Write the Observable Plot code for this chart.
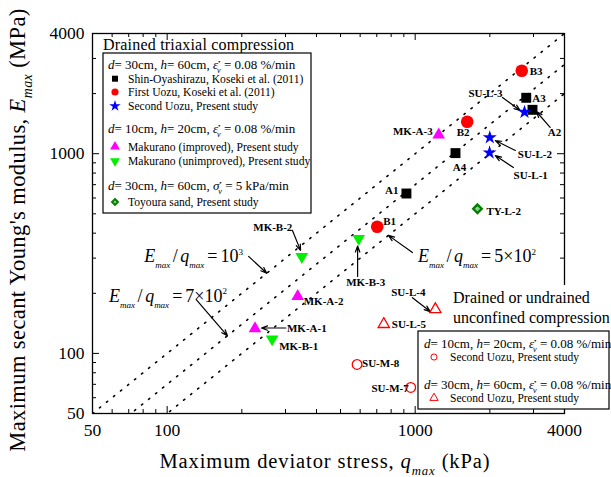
<!DOCTYPE html>
<html><head><meta charset="utf-8">
<script src="https://cdn.jsdelivr.net/npm/d3@7"></script>
<script src="https://cdn.jsdelivr.net/npm/@observablehq/plot@0.6"></script>
<style>
body{margin:0;background:#fff;}
#chart{width:611px;height:477px;}
</style></head><body><div id="chart"></div>
<script>
const W = 611, H = 477;
const SERIF = "'Liberation Serif','Times New Roman',serif";

// ---- data (q_max in kPa, E_max in MPa) ----
const shinNames = ["A1", "A2", "A3", "A4"];
const shinQ = [922, 2972, 2804, 1454];
const shinE = [632, 1659, 1906, 1007];

const firstNames = ["B1", "B2", "B3"];
const firstQ = [703, 1621, 2690];
const firstE = [431, 1446, 2602];

const secondNames = ["SU-L-1", "SU-L-2", "SU-L-3"];
const secondQ = [1995, 1999, 2759];
const secondE = [1012, 1205, 1615];

const mkANames = ["MK-A-1", "MK-A-2", "MK-A-3"];
const mkAQ = [226, 336, 1244];
const mkAE = [133, 193, 1244];

const mkBNames = ["MK-B-1", "MK-B-2", "MK-B-3"];
const mkBQ = [265, 349, 592];
const mkBE = [118, 305, 376];

const toyNames = ["TY-L-2"];
const toyQ = [1783];
const toyE = [530];

const ucSmallNames = ["SU-M-7", "SU-M-8"];
const ucSmallQ = [960, 583];
const ucSmallE = [67.5, 88];

const ucLargeNames = ["SU-L-4", "SU-L-5"];
const ucLargeQ = [1206, 747];
const ucLargeE = [166, 140];

// E_max/q_max reference ratios
const ratios = [1000, 700, 500];
const qRange = [50, 4000];

const xTicks = [50, 100, 1000, 4000];
const yTicks = [50, 100, 1000, 4000];
const xMinor = [60, 70, 80, 90, 200, 300, 400, 500, 600, 700, 800, 900, 2000, 3000];
const xMajor = [100, 1000];
const yMinor = [60, 70, 80, 90, 200, 300, 400, 500, 600, 700, 800, 900, 2000, 3000];
const yMajor = [100, 1000];

const rows = (names, q, e) => names.map((n, i) => ({name: n, q: q[i], E: e[i]}));
const shin = rows(shinNames, shinQ, shinE);
const first = rows(firstNames, firstQ, firstE);
const second = rows(secondNames, secondQ, secondE);
const mkA = rows(mkANames, mkAQ, mkAE);
const mkB = rows(mkBNames, mkBQ, mkBE);
const toy = rows(toyNames, toyQ, toyE);
const ucSmall = rows(ucSmallNames, ucSmallQ, ucSmallE);
const ucLarge = rows(ucLargeNames, ucLargeQ, ucLargeE);
const allPts = [...shin, ...first, ...second, ...mkA, ...mkB, ...toy, ...ucSmall, ...ucLarge];

const refLines = ratios.flatMap(r => qRange.map(q => ({r, q, E: q * r / 1000})));

// point label placement (pixel offsets from the point)
const labelCfg = [
  ["A1", -8, -3, "end"], ["A4", 4, 14, "middle"], ["A3", 6, 1, "start"], ["A2", 22, 23, "middle"],
  ["B3", 8, 1, "start"], ["B2", -4, 11, "middle"], ["B1", 6, -5, "start"],
  ["SU-L-3", -39, -19, "middle"], ["SU-L-2", 28, 17, "start"], ["SU-L-1", 24, 23, "start"],
  ["TY-L-2", 9, 3, "start"], ["MK-A-3", -6, -3, "end"], ["MK-B-2", -29, -29, "middle"],
  ["MK-A-2", 6, 5, "start"], ["MK-A-1", 32, 0, "start"], ["MK-B-1", 7, 7, "start"],
  ["MK-B-3", 7, 44, "middle"], ["SU-L-4", -27, -17, "middle"], ["SU-L-5", 8, 0, "start"],
  ["SU-M-8", 5, -1, "start"], ["SU-M-7", -2, 1, "end"]
];

// annotation arrows (tail -> head) in data units
const arrows = [
  {x1: 2250, y1: 1913, x2: 2650, y2: 1646},
  {x1: 3500, y1: 1354, x2: 3080, y2: 1627},
  {x1: 2535, y1: 1038, x2: 2105, y2: 1164},
  {x1: 2490, y1: 853, x2: 2105, y2: 979},
  {x1: 320, y1: 413, x2: 345, y2: 328},
  {x1: 301, y1: 134, x2: 240, y2: 134},
  {x1: 586, y1: 243, x2: 586, y2: 345},
  {x1: 975, y1: 190, x2: 1150, y2: 162},
  {x1: 213, y1: 306, x2: 252, y2: 252},
  {x1: 131, y1: 186, x2: 175, y2: 122.5},
  {x1: 975, y1: 320, x2: 780, y2: 390}
];

const PW = W - 92 - 47, PH = H - 33 - 64;

const labelMarks = labelCfg.map(([name, dx, dy, anchor]) =>
  Plot.text(allPts.filter(d => d.name === name), {
    x: "q", y: "E", text: "name", dx, dy, textAnchor: anchor,
    fontSize: 11, fontWeight: "bold", fill: "black", fontFamily: SERIF
  }));

const chart = Plot.plot({
  width: W, height: H,
  marginLeft: 92, marginRight: 47, marginTop: 33, marginBottom: 64,
  style: {fontFamily: SERIF, fontSize: "17px", background: "#fff", color: "#000"},
  x: {type: "log", domain: [50, 4000]},
  y: {type: "log", domain: [50, 4000]},
  marks: [
    Plot.line(refLines, {x: "q", y: "E", z: "r", stroke: "black", strokeWidth: 1.6,
      strokeDasharray: "1.4,7.6", clip: true}),
    // inward ticks on all four sides
    Plot.tickX(xMinor, {x: d => d, insetTop: PH - 4, stroke: "black"}),
    Plot.tickX(xMinor, {x: d => d, insetBottom: PH - 4, stroke: "black"}),
    Plot.tickX(xMajor, {x: d => d, insetTop: PH - 7, stroke: "black"}),
    Plot.tickX(xMajor, {x: d => d, insetBottom: PH - 7, stroke: "black"}),
    Plot.tickY(yMinor, {y: d => d, insetRight: PW - 4, stroke: "black"}),
    Plot.tickY(yMinor, {y: d => d, insetLeft: PW - 4, stroke: "black"}),
    Plot.tickY(yMajor, {y: d => d, insetRight: PW - 7, stroke: "black"}),
    Plot.tickY(yMajor, {y: d => d, insetLeft: PW - 7, stroke: "black"}),
    Plot.axisX({ticks: xTicks, tickSize: 0, tickPadding: 10, tickFormat: d => String(d), label: null, fontSize: 17.5}),
    Plot.axisY({ticks: yTicks, tickSize: 0, tickPadding: 8, tickFormat: d => String(d), label: null, fontSize: 17.5}),
    Plot.frame({stroke: "black", strokeWidth: 1.3}),
    Plot.arrow(arrows, {x1: "x1", y1: "y1", x2: "x2", y2: "y2", stroke: "black",
      strokeWidth: 1.2, headLength: 8, headAngle: 40}),
    Plot.dot(shin, {x: "q", y: "E", symbol: "square", fill: "black", r: 5.6}),
    Plot.dot(first, {x: "q", y: "E", symbol: "circle", fill: "#ff0000", r: 6.3}),
    Plot.dot(second, {x: "q", y: "E", symbol: "star", fill: "#0000ff", r: 4.4}),
    Plot.dot(mkA, {x: "q", y: "E", symbol: "triangle", fill: "#ff00ff", r: 4.7}),
    Plot.dot(mkB, {x: "q", y: "E", symbol: "triangle", fill: "#00f000", r: 4.7, rotate: 180}),
    Plot.dot(toy, {x: "q", y: "E", symbol: "diamond2", fill: "#8fd18f", stroke: "#008000", strokeWidth: 2.4, r: 3.8}),
    Plot.dot(ucSmall, {x: "q", y: "E", symbol: "circle", fill: "none", stroke: "#ff0000", strokeWidth: 1.3, r: 4.8}),
    Plot.dot(ucLarge, {x: "q", y: "E", symbol: "triangle", fill: "none", stroke: "#ff0000", strokeWidth: 1.3, r: 4.2}),
    ...labelMarks
  ]
});
document.getElementById("chart").appendChild(chart);

// ---- overlays: rich text, legends ----
const svg = d3.select(chart);
const sx = chart.scale("x"), sy = chart.scale("y");

function txt(parent, x, y, size, s, anchor = "start", ls = 0) {
  return parent.append("text").attr("x", x).attr("y", y).attr("font-size", size)
    .attr("text-anchor", anchor).attr("font-family", SERIF).attr("fill", "black")
    .attr("letter-spacing", ls).text(s);
}

function rich(parent, x, y, size, segs, anchor = "start", extra = {}) {
  const t = parent.append("text").attr("x", x).attr("y", y).attr("font-size", size)
    .attr("text-anchor", anchor).attr("font-family", SERIF).attr("fill", "black");
  for (const k in extra) t.attr(k, extra[k]);
  let cur = 0;
  for (const s of segs) {
    const target = s.s === "sub" ? size * 0.32 : s.s === "sup" ? -size * 0.42 : 0;
    const sp = t.append("tspan").attr("dy", target - cur).text(s.t);
    cur = target;
    if (s.s) sp.attr("font-size", size * (s.k || 0.62));
    if (s.i) sp.attr("font-style", "italic");
    if (s.dx) sp.attr("dx", s.dx);
  }
  return t;
}

const ratioSegs = tail => [
  {t: "E", i: 1}, {t: "max", i: 1, s: "sub", k: 0.5}, {t: "/", dx: 2.5}, {t: "q", i: 1, dx: 2.5},
  {t: "max", i: 1, s: "sub", k: 0.5}, {t: "=", dx: 3}, {t: tail[0], dx: 3}, {t: tail[1], s: "sup", k: 0.5}
];
rich(svg, sx.apply(203), sy.apply(285), 18, ratioSegs(["10", "3"]), "end");
rich(svg, sx.apply(175), sy.apply(180), 18, ratioSegs(["7×10", "2"]), "end");
rich(svg, sx.apply(1032), sy.apply(285), 18, ratioSegs(["5×10", "2"]), "start");

// axis titles
rich(svg, 325, 468, 20.5, [{t: "Maximum deviator stress, "}, {t: "q", i: 1}, {t: "max", i: 1, s: "sub"}, {t: " (kPa)"}], "middle",
  {"letter-spacing": 0.9});
rich(svg, 0, 0, 22.5, [{t: "Maximum secant Young's modulus, "}, {t: "E", i: 1}, {t: "max", i: 1, s: "sub"}, {t: " (MPa)"}], "middle",
  {transform: "translate(25,230) rotate(-90)", "letter-spacing": 0.4});

const rateSegs = (sym, val) => [
  {t: sym, i: 1}, {t: "•", s: "sup", k: 0.55}, {t: "v", i: 1, s: "sub", dx: -3.5}, {t: " = " + val}
];
const headerSegs = (d, h, sym, val) => [
  {t: "d", i: 1}, {t: "= " + d + ", "}, {t: "h", i: 1}, {t: "= " + h + ", "}, ...rateSegs(sym, val)
];

function sym(parent, type, x, y, size, style) {
  const p = parent.append("path").attr("d", d3.symbol(type, size)())
    .attr("transform", `translate(${x},${y})` + (style.rot ? ` rotate(${style.rot})` : ""));
  p.attr("fill", style.fill || "none").attr("stroke", style.stroke || "none").attr("stroke-width", style.sw || 1);
  return p;
}

// Legend 1
const g1 = svg.append("g");
txt(g1, 103, 50, 16, "Drained triaxial compression", "start", 0.2);
g1.append("rect").attr("x", 103).attr("y", 53).attr("width", 208).attr("height", 160)
  .attr("fill", "white").attr("stroke", "black").attr("stroke-width", 1.2);
rich(g1, 108, 69, 13, headerSegs("30cm", "60cm", "ε", "0.08 %/min"));
rich(g1, 108, 133, 13, headerSegs("10cm", "20cm", "ε", "0.08 %/min"));
rich(g1, 108, 190, 13, headerSegs("30cm", "60cm", "σ", "5 kPa/min"));
const leg1 = [
  [82.7, "Shin-Oyashirazu, Koseki et al. (2011)", d3.symbolSquare, 36, {fill: "black"}],
  [96, "First Uozu, Koseki et al. (2011)", d3.symbolCircle, 40, {fill: "#ff0000"}],
  [110, "Second Uozu, Present study", d3.symbolStar, 40, {fill: "#0000ff"}],
  [150.7, "Makurano (improved), Present study", d3.symbolTriangle, 42, {fill: "#ff00ff"}],
  [165, "Makurano (unimproved), Present study", d3.symbolTriangle, 42, {fill: "#00f000", rot: 180}],
  [206, "Toyoura sand, Present study", d3.symbolDiamond2, 22, {fill: "#8fd18f", stroke: "#008000", sw: 2}]
];
for (const [y, s, type, size, st] of leg1) {
  sym(g1, type, 115, y - 4, size, st);
  txt(g1, 128, y, 11.6, s);
}

// Legend 2
const g2 = svg.append("g");
g2.append("rect").attr("x", 448).attr("y", 285).attr("width", 163).attr("height", 46).attr("fill", "white");
txt(g2, 453, 303, 16, "Drained or undrained");
txt(g2, 453, 323, 16, "unconfined compression");
g2.append("rect").attr("x", 418).attr("y", 331).attr("width", 191).attr("height", 78)
  .attr("fill", "white").attr("stroke", "black").attr("stroke-width", 1.2);
rich(g2, 424, 348, 13, headerSegs("10cm", "20cm", "ε", "0.08 %/min"));
rich(g2, 424, 389, 13, headerSegs("30cm", "60cm", "ε", "0.08 %/min"));
sym(g2, d3.symbolCircle, 434, 357, 30, {stroke: "#ff0000", sw: 1});
txt(g2, 450, 361, 11.5, "Second Uozu, Present study");
sym(g2, d3.symbolTriangle, 434, 398, 30, {stroke: "#ff0000", sw: 1});
txt(g2, 450, 402, 11.5, "Second Uozu, Present study");
</script></body></html>
